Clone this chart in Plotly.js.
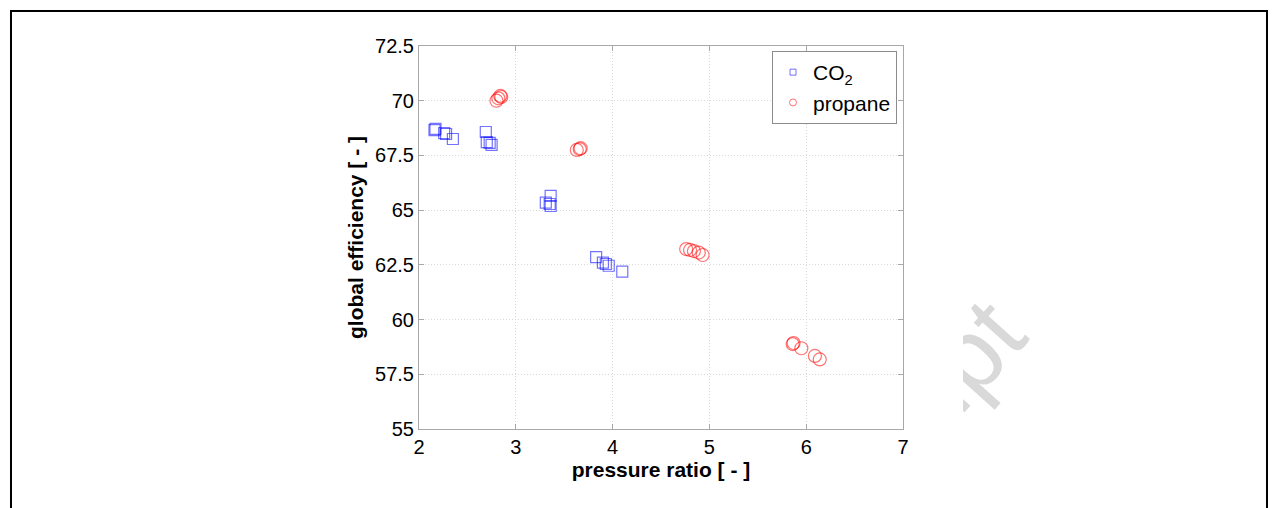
<!DOCTYPE html>
<html>
<head>
<meta charset="utf-8">
<script src="https://cdn.plot.ly/plotly-3.0.1.min.js"></script>
<style>
  html, body { margin: 0; padding: 0; background: #ffffff; }
  #chart { width: 1277px; height: 508px; }
</style>
</head>
<body>
<div id="chart"></div>
<script>
// Pressure ratio vs. global efficiency for the two working fluids
const co2X = [2.16, 2.17, 2.26, 2.28, 2.35, 2.69, 2.70, 2.73, 2.75, 3.31, 3.36, 3.36, 3.35, 3.83, 3.90, 3.93, 3.96, 4.10];
const co2Y = [68.66, 68.71, 68.52, 68.48, 68.25, 68.57, 68.11, 68.07, 67.98, 65.34, 65.65, 65.19, 65.28, 62.85, 62.60, 62.54, 62.46, 62.19];

const propaneX = [2.80, 2.82, 2.84, 2.85, 3.63, 3.66, 3.67, 4.76, 4.80, 4.84, 4.89, 4.93, 5.86, 5.87, 5.95, 6.09, 6.14];
const propaneY = [70.00, 70.11, 70.22, 70.17, 67.75, 67.79, 67.83, 63.22, 63.18, 63.13, 63.06, 62.95, 58.88, 58.93, 58.69, 58.34, 58.18];

const xTicks = [2, 3, 4, 5, 6, 7];
const yTicks = [55, 57.5, 60, 62.5, 65, 67.5, 70, 72.5];
const yTickText = ['55', '57.5', '60', '62.5', '65', '67.5', '70', '72.5'];

const seriesNames = ['CO<sub>2</sub>', 'propane'];

// Plot area in page pixels, used to place paper-referenced shapes
const W = 1277, H = 508;
const M = { l: 419, r: 374, t: 46, b: 79 };
const PW = W - M.l - M.r, PH = H - M.t - M.b;
const px = v => (v - M.l) / PW;
const py = v => 1 - (v - M.t) / PH;

const FONT = 'Liberation Sans, Arial, Helvetica, sans-serif';
const BLUE = 'rgba(0,0,255,0.55)';
const RED = 'rgba(255,0,0,0.55)';
const AXIS = '#a8a8a8';
const GRID = '#d9d9d9';

const traces = [
  {
    x: co2X, y: co2Y, type: 'scatter', mode: 'markers', showlegend: false,
    marker: { symbol: 'square-open', size: 11, color: BLUE, line: { width: 1.2 } },
    hoverinfo: 'skip'
  },
  {
    x: propaneX, y: propaneY, type: 'scatter', mode: 'markers', showlegend: false,
    marker: { symbol: 'circle-open', size: 13, color: RED, line: { width: 1.2 } },
    hoverinfo: 'skip'
  },
  // legend keys with small symbols
  {
    x: [null], y: [null], type: 'scatter', mode: 'markers', name: seriesNames[0],
    marker: { symbol: 'square-open', size: 6, color: BLUE, line: { width: 1 } }
  },
  {
    x: [null], y: [null], type: 'scatter', mode: 'markers', name: seriesNames[1],
    marker: { symbol: 'circle-open', size: 7, color: RED, line: { width: 1 } }
  }
];

// watermark label centre, offset so the trailing letters sit right of the figure
const wmAngle = -48;
const wmCx = 918, wmCy = 398;

const layout = {
  width: W, height: H,
  margin: M,
  paper_bgcolor: '#ffffff',
  plot_bgcolor: '#ffffff',
  font: { family: FONT, color: '#000000' },
  showlegend: true,
  legend: {
    x: px(897), xanchor: 'right',
    y: py(51), yanchor: 'top',
    bgcolor: '#ffffff',
    bordercolor: '#8c8c8c', borderwidth: 1,
    font: { family: FONT, size: 21, color: '#000000' },
    tracegroupgap: 0
  },
  xaxis: {
    range: [2, 7],
    tickmode: 'array', tickvals: xTicks,
    ticks: 'inside', ticklen: 5, tickcolor: AXIS, tickwidth: 1,
    showline: true, linecolor: AXIS, linewidth: 1, mirror: 'ticks',
    showgrid: true, gridcolor: GRID, griddash: '1px,2px', gridwidth: 1,
    zeroline: false,
    tickfont: { family: FONT, size: 20, color: '#000000' },
    title: { text: 'pressure ratio [ - ]', standoff: 2,
             font: { family: FONT, size: 21, weight: 'bold', color: '#000000' } }
  },
  yaxis: {
    range: [55, 72.5],
    tickmode: 'array', tickvals: yTicks, ticktext: yTickText,
    ticks: 'inside', ticklen: 5, tickcolor: AXIS, tickwidth: 1,
    showline: true, linecolor: AXIS, linewidth: 1, mirror: 'ticks',
    showgrid: true, gridcolor: GRID, griddash: '1px,2px', gridwidth: 1,
    zeroline: false,
    tickfont: { family: FONT, size: 20, color: '#000000' },
    title: { text: 'global efficiency [ - ]', standoff: 5,
             font: { family: FONT, size: 21, weight: 'bold', color: '#000000' } }
  },
  shapes: [
    // background watermark
    {
      type: 'rect', xref: 'paper', yref: 'paper', layer: 'below',
      x0: px(wmCx - 5), x1: px(wmCx + 5), y0: py(wmCy + 5), y1: py(wmCy - 5),
      line: { width: 0 }, fillcolor: 'rgba(0,0,0,0)',
      label: {
        text: 'script', textangle: wmAngle, textposition: 'middle center',
        font: { family: FONT, size: 100, color: '#d9d9d9' }
      }
    },
    // opaque figure panel over the watermark
    {
      type: 'rect', xref: 'paper', yref: 'paper', layer: 'below',
      x0: px(12), x1: px(963), y0: py(508), y1: py(12),
      line: { width: 0 }, fillcolor: '#ffffff'
    },
    // page frame
    {
      type: 'rect', xref: 'paper', yref: 'paper', layer: 'above',
      x0: px(11), x1: px(1267), y0: py(540), y1: py(11),
      line: { width: 2, color: '#000000' }, fillcolor: 'rgba(0,0,0,0)'
    }
  ]
};

Plotly.newPlot('chart', traces, layout, { displayModeBar: false, staticPlot: true });
</script>
</body>
</html>
